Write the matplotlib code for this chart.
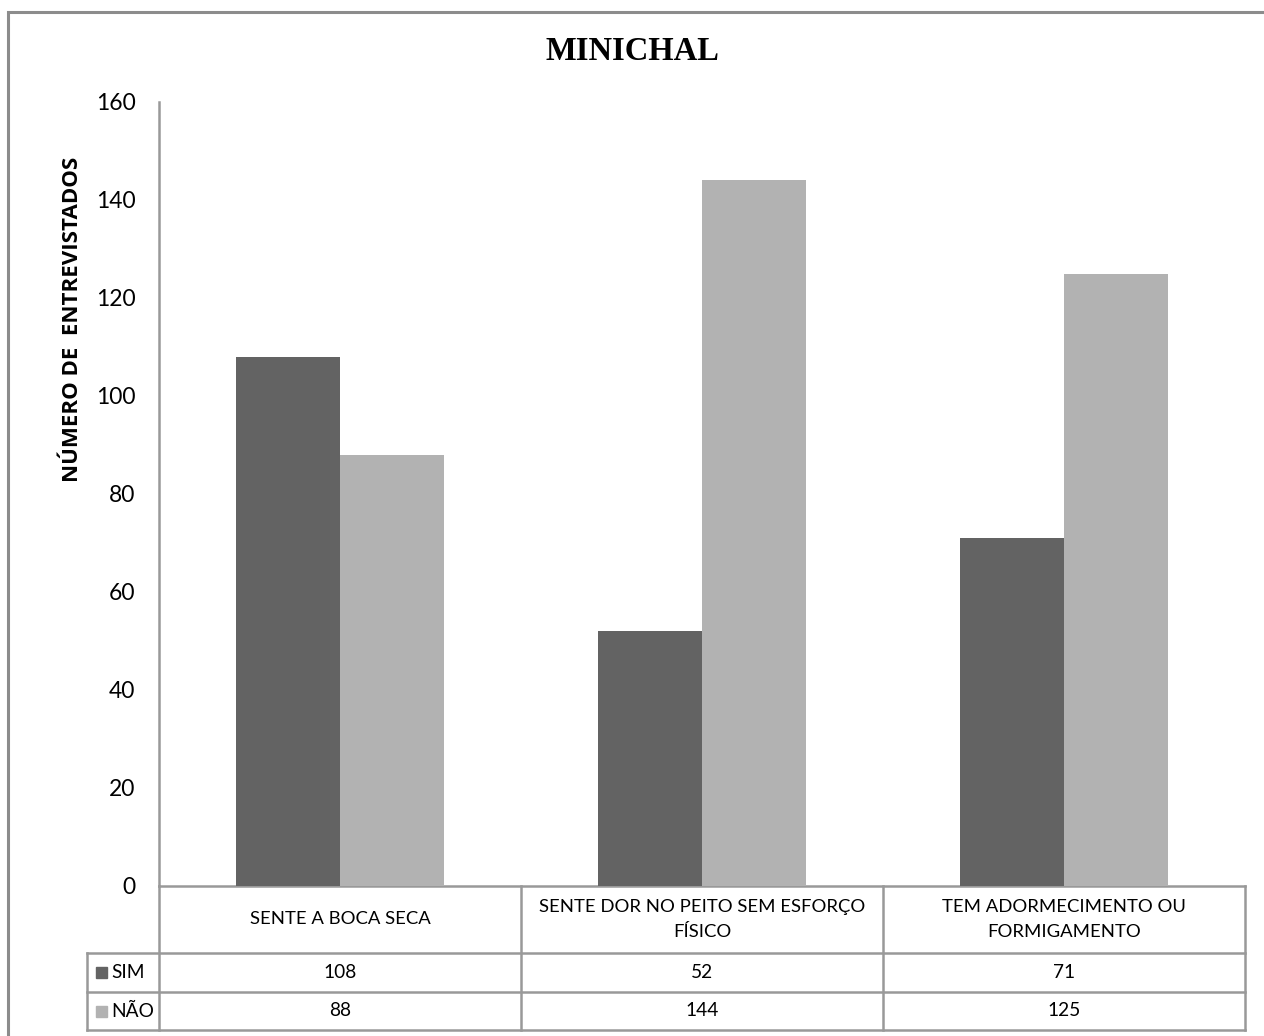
import matplotlib
matplotlib.use("Agg")
import matplotlib.pyplot as plt
from matplotlib.patches import Rectangle
from matplotlib.transforms import blended_transform_factory

# Data
categories = ["SENTE A BOCA SECA",
              "SENTE DOR NO PEITO SEM ESFORÇO\nFÍSICO",
              "TEM ADORMECIMENTO OU\nFORMIGAMENTO"]
series_names = ["SIM", "NÃO"]
sim_values = [108, 52, 71]
nao_values = [88, 144, 125]
y_ticks = [0, 20, 40, 60, 80, 100, 120, 140, 160]

colors = ["#636363", "#b2b2b2"]
grid_col = "#999999"
font = "Lato"

W, H = 1264, 1036
fig = plt.figure(figsize=(W / 100, H / 100), dpi=100)


def fx(px):
    return px / W


def fy(py):
    return 1 - py / H


# Outer chart border
fig.patches.append(Rectangle((fx(8), fy(1045)), fx(1275) - fx(8), fy(12) - fy(1045),
                             transform=fig.transFigure, fill=False,
                             edgecolor="#8c8c8c", linewidth=2.2))

ax = fig.add_axes([fx(159), fy(886), fx(1245) - fx(159), fy(102) - fy(886)])

n = len(categories)
bw = 0.287
xs = list(range(n))
ax.bar([x - bw / 2 for x in xs], sim_values, width=bw, color=colors[0], zorder=3)
ax.bar([x + bw / 2 for x in xs], nao_values, width=bw, color=colors[1], zorder=3)

ax.set_xlim(-0.5, n - 0.5)
ax.set_ylim(0, 160)
ax.set_yticks(y_ticks)
ax.set_yticklabels([str(t) for t in y_ticks], fontsize=16.5, family=font)
ax.set_xticks([])
ax.tick_params(axis="y", length=0, pad=17)
for s in ["top", "right"]:
    ax.spines[s].set_visible(False)
ax.spines["left"].set_color(grid_col)
ax.spines["left"].set_linewidth(1.8)
ax.spines["bottom"].set_color(grid_col)
ax.spines["bottom"].set_linewidth(1.8)

ax.set_ylabel("NÚMERO DE  ENTREVISTADOS", fontsize=16, fontweight="bold",
              family="Open Sans", labelpad=0)
ax.yaxis.set_label_coords(fx(71) - fx(159), (fy(319) - fy(886)) / (fy(102) - fy(886)),
                          transform=ax.transAxes)

fig.text(0.5, fy(52), "MINICHAL", ha="center", va="center",
         fontsize=23.5, fontweight="bold", family="Liberation Serif")

# Data table below the axes
tr = blended_transform_factory(ax.transData, fig.transFigure)
y_cat_top, y_cat_bot, y_mid, y_bot = fy(886), fy(953), fy(992), fy(1030)
x_hdr = -0.5 - (159 - 87) / ((1245 - 159) / n)
lw = 1.8
fs = 13.3


def hline(x0, x1, y):
    ax.plot([x0, x1], [y, y], transform=tr, color=grid_col, lw=lw, clip_on=False,
            solid_capstyle="projecting")


def vline(x, y0, y1):
    ax.plot([x, x], [y0, y1], transform=tr, color=grid_col, lw=lw, clip_on=False,
            solid_capstyle="projecting")


for y in (y_cat_bot, y_mid, y_bot):
    hline(x_hdr, n - 0.5, y)
for b in [i - 0.5 for i in range(n + 1)]:
    vline(b, y_cat_top, y_bot)
vline(x_hdr, y_cat_bot, y_bot)

for i, cat in enumerate(categories):
    ax.text(i, (y_cat_top + y_cat_bot) / 2, cat, transform=tr, ha="center", va="center",
            fontsize=fs, family=font, linespacing=1.75)
    ax.text(i, (y_cat_bot + y_mid) / 2, str(sim_values[i]), transform=tr,
            ha="center", va="center", fontsize=fs + 0.5, family=font)
    ax.text(i, (y_mid + y_bot) / 2, str(nao_values[i]), transform=tr,
            ha="center", va="center", fontsize=fs + 0.5, family=font)

# Row headers with colour keys
for (y0, y1), name, col in zip([(y_cat_bot, y_mid), (y_mid, y_bot)], series_names, colors):
    yc = (y0 + y1) / 2
    fig.patches.append(Rectangle((fx(96), yc - (fy(0) - fy(11)) / 2), fx(11), fy(0) - fy(11),
                                 transform=fig.transFigure, color=col))
    fig.text(fx(111), yc, name, ha="left", va="center", fontsize=fs + 0.5, family=font)

fig.savefig("out.png", dpi=100)
